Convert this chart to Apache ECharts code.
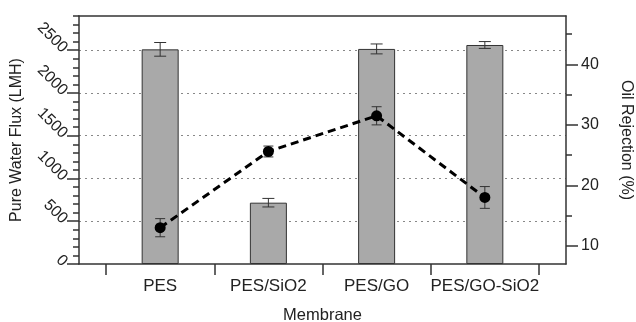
<!DOCTYPE html>
<html>
<head>
<meta charset="utf-8">
<script src="https://cdn.jsdelivr.net/npm/echarts@6/dist/echarts.min.js"></script>
<style>
html,body{margin:0;padding:0;background:#fff;}
#chart{width:636px;height:322px;}
</style>
</head>
<body>
<div id="chart"></div>
<script>
// Data
var categories = ['PES', 'PES/SiO2', 'PES/GO', 'PES/GO-SiO2'];
var fluxValues = [2510, 717, 2515, 2561];
var fluxErrors = [80, 50, 58, 40];
var rejectionValues = [13.0, 25.6, 31.5, 18.0];
var rejectionErrors = [1.5, 0.9, 1.5, 1.8];
var fluxTickLabels = [0, 500, 1000, 1500, 2000, 2500];
var rejectionTickLabels = [10, 20, 30, 40];
var rejectionMinorTicks = [10, 15, 20, 25, 30, 35, 40, 45];
var categoryBoundaries = [-0.5, 0.5, 1.5, 2.5, 3.5];
var categoryPositions = [0, 1, 2, 3];

var FONT = 'Liberation Sans, Arial, sans-serif';
var AX = '#333';
var TXT = '#222';

var fluxData = fluxValues.map(function (v, i) { return [i, v]; });
var fluxErrData = fluxValues.map(function (v, i) { return [i, v - fluxErrors[i], v + fluxErrors[i]]; });
var rejData = rejectionValues.map(function (v, i) { return [i, v]; });
var rejErrData = rejectionValues.map(function (v, i) { return [i, v - rejectionErrors[i], v + rejectionErrors[i]]; });

function errorBarRenderer(capHalf) {
  return function (params, api) {
    var x = api.value(0);
    var lo = api.coord([x, api.value(1)]);
    var hi = api.coord([x, api.value(2)]);
    var st = { stroke: '#333', lineWidth: 1 };
    return {
      type: 'group',
      children: [
        { type: 'line', shape: { x1: lo[0], y1: lo[1], x2: hi[0], y2: hi[1] }, style: st },
        { type: 'line', shape: { x1: lo[0] - capHalf, y1: lo[1], x2: lo[0] + capHalf, y2: lo[1] }, style: st },
        { type: 'line', shape: { x1: hi[0] - capHalf, y1: hi[1], x2: hi[0] + capHalf, y2: hi[1] }, style: st }
      ]
    };
  };
}

var chart = echarts.init(document.getElementById('chart'), null, { renderer: 'canvas' });
var option = {
  animation: false,
  backgroundColor: '#fff',
  grid: { left: 79, right: 70, top: 16, bottom: 58, containLabel: false, outerBoundsMode: 'none' },
  xAxis: [
    {
      type: 'value', min: -0.75, max: 3.75, position: 'bottom',
      axisLine: { show: true, onZero: false, lineStyle: { color: AX, width: 1.5 } },
      axisTick: { show: true, inside: false, length: 11, customValues: categoryBoundaries, lineStyle: { color: AX, width: 1.5 } },
      axisLabel: {
        show: true, customValues: categoryPositions, margin: 14,
        fontFamily: FONT, fontSize: 17, color: TXT,
        formatter: function (v) { return categories[Math.round(v)]; }
      },
      splitLine: { show: false },
      name: 'Membrane', nameLocation: 'middle', nameGap: 43,
      nameTextStyle: { fontFamily: FONT, fontSize: 16.5, color: TXT }
    },
    {
      type: 'value', min: -0.75, max: 3.75, position: 'top',
      axisLine: { show: true, onZero: false, lineStyle: { color: AX, width: 1.5 } },
      axisTick: { show: false }, axisLabel: { show: false }, splitLine: { show: false }
    }
  ],
  yAxis: [
    {
      type: 'value', min: 0, max: 2900, interval: 500, position: 'left',
      axisLine: { show: true, onZero: false, lineStyle: { color: AX, width: 1.5 } },
      axisTick: { show: true, inside: false, length: 12, customValues: fluxTickLabels, lineStyle: { color: AX, width: 1.5 } },
      axisLabel: {
        show: true, customValues: fluxTickLabels, rotate: -45, margin: 14,
        fontFamily: FONT, fontSize: 16, color: TXT,
        formatter: function (v) { return String(v); }
      },
      splitLine: { show: true, showMinLine: false, showMaxLine: true, lineStyle: { color: '#888', width: 1, type: [2, 4] } },
      name: 'Pure Water Flux (LMH)', nameLocation: 'middle', nameGap: 52,
      nameTextStyle: { fontFamily: FONT, fontSize: 16, color: TXT }
    },
    {
      type: 'value', min: 0, max: 2900, interval: 100, position: 'left', offset: 0,
      axisLine: { show: false, onZero: false },
      axisTick: { show: true, inside: false, length: 6, lineStyle: { color: AX, width: 1.5 } },
      axisLabel: { show: false }, splitLine: { show: false }
    },
    {
      type: 'value', min: 7, max: 48, position: 'right',
      axisLine: { show: true, onZero: false, lineStyle: { color: AX, width: 1.5 } },
      axisTick: { show: true, inside: false, length: 12, customValues: rejectionTickLabels, lineStyle: { color: AX, width: 1.5 } },
      axisLabel: { show: true, customValues: rejectionTickLabels, margin: 15, fontFamily: FONT, fontSize: 16, color: TXT },
      splitLine: { show: false },
      name: 'Oil Rejection (%)', nameLocation: 'middle', nameGap: 52, nameRotate: -90,
      nameTextStyle: { fontFamily: FONT, fontSize: 16, color: TXT }
    },
    {
      type: 'value', min: 7, max: 48, position: 'right', offset: 0,
      axisLine: { show: false, onZero: false },
      axisTick: { show: true, inside: false, length: 6, customValues: rejectionMinorTicks, lineStyle: { color: AX, width: 1.5 } },
      axisLabel: { show: false }, splitLine: { show: false }
    }
  ],
  series: [
    {
      type: 'bar', xAxisIndex: 0, yAxisIndex: 0, data: fluxData, barWidth: 37,
      itemStyle: { color: '#a9a9a9', borderColor: '#333', borderWidth: 1 },
      z: 2
    },
    {
      type: 'custom', xAxisIndex: 0, yAxisIndex: 0, data: fluxErrData,
      renderItem: errorBarRenderer(6), z: 3
    },
    {
      type: 'line', xAxisIndex: 0, yAxisIndex: 2, data: rejData,
      symbol: 'circle', symbolSize: 11,
      itemStyle: { color: '#000' },
      lineStyle: { color: '#000', width: 3, type: [8, 5] },
      z: 5
    },
    {
      type: 'custom', xAxisIndex: 0, yAxisIndex: 2, data: rejErrData,
      renderItem: errorBarRenderer(5), z: 4
    }
  ]
};
chart.setOption(option);
</script>
</body>
</html>
